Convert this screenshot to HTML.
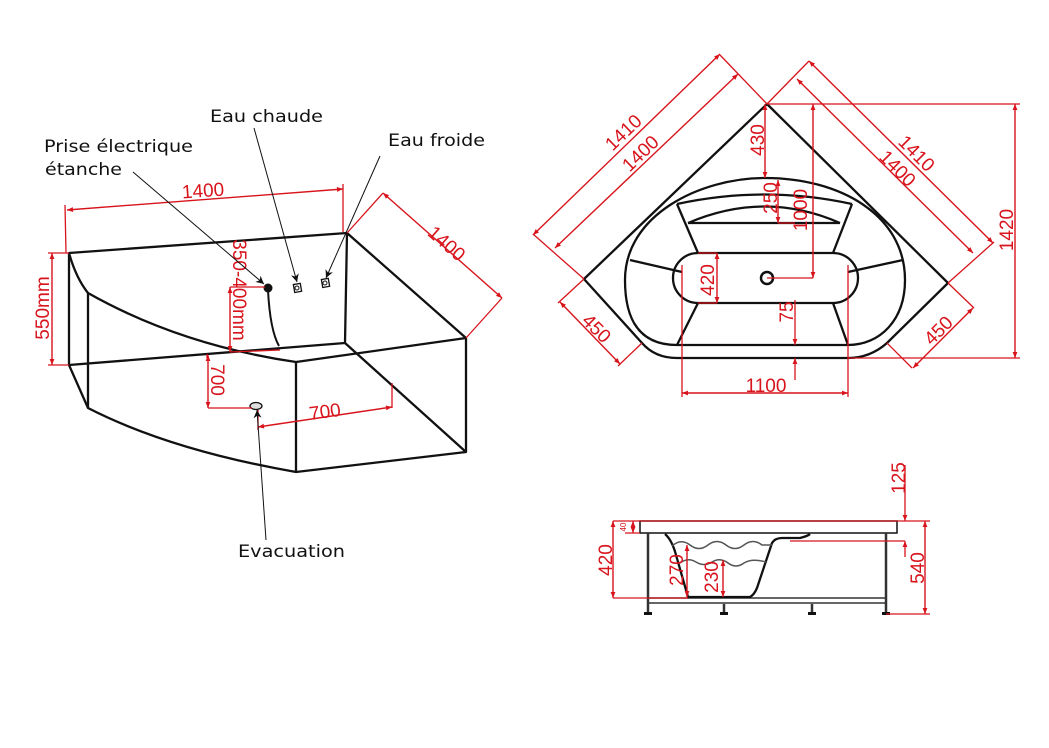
<!DOCTYPE html>
<html><head><meta charset="utf-8"><style>
html,body{margin:0;padding:0;background:#fff;}
svg{display:block;}
.k{stroke:#111;stroke-width:2.3;fill:none;stroke-linejoin:round}
.r{stroke:#d8141c;stroke-width:1.3;fill:none}
.ra{stroke:#d8141c;stroke-width:1.4;fill:none;marker-start:url(#a);marker-end:url(#a)}
.t{fill:#d8141c;font-family:"Liberation Sans",sans-serif;font-size:19px;text-anchor:middle}
.lb{fill:#111;font-family:"DejaVu Sans","Liberation Sans",sans-serif;font-size:17px}
</style></head><body>
<svg width="1049" height="748" viewBox="0 0 1049 748" xmlns="http://www.w3.org/2000/svg">
<defs>
<marker id="a" viewBox="0 0 10 10" refX="10" refY="5" markerWidth="9" markerHeight="6" orient="auto-start-reverse" markerUnits="userSpaceOnUse"><path d="M0,1 L10,5 L0,9 z" fill="#d8141c"/></marker>
<marker id="b" viewBox="0 0 10 10" refX="10" refY="5" markerWidth="10" markerHeight="8" orient="auto" markerUnits="userSpaceOnUse"><path d="M0,0 L10,5 L0,10 L3,5 z" fill="#111"/></marker>
</defs>

<!-- LEFT ISOMETRIC -->
<g class="k">
<path d="M69,253 L347,233 L466,338 L466,452 L296,472 Q170,450 88,408 L69,365 Z"/>
<path d="M69,253 Q76,278 88,293 Q180,345 296,362 L466,338"/>
<path d="M88,293 L88,408 M296,362 L296,472 M347,233 L345,343 L466,452 M69,365 L345,343"/>
</g>
<circle cx="268" cy="288" r="4.5" fill="#111"/>
<path d="M268,290 Q270,330 279,346" stroke="#111" stroke-width="2" fill="none"/>
<rect x="294" y="284" width="7" height="8" fill="none" stroke="#111" stroke-width="1.3" transform="rotate(-10 297 288)"/>
<circle cx="297" cy="288" r="2" fill="none" stroke="#111"/>
<rect x="322" y="279" width="7" height="8" fill="none" stroke="#111" stroke-width="1.3" transform="rotate(-10 325 283)"/>
<circle cx="325" cy="283" r="2" fill="none" stroke="#111"/>
<ellipse cx="256" cy="406" rx="6" ry="3.5" fill="#ddd" stroke="#111" stroke-width="1.3"/>
<path class="r" d="M66,253 L65,205 M343,232 L343,184 M347,233 L383,193 M466,338 L502,298 M48,253 L69,253 M48,365 L69,365 M230,287 L265,287 M230,352 L280,350 M207,354 L207,358 M208,408 L252,408 M392,383 L392,408 M258,410 L258,430"/>
<line class="ra" x1="67" y1="210" x2="343" y2="189"/>
<line class="ra" x1="383" y1="193" x2="502" y2="298"/>
<line class="ra" x1="52" y1="253" x2="52" y2="365"/>
<line class="ra" x1="230" y1="287" x2="230" y2="352"/>
<line class="ra" x1="208" y1="355" x2="208" y2="408"/>
<line class="ra" x1="258" y1="427" x2="392" y2="407"/>
<text class="t" x="203" y="197" transform="rotate(-4 203 190)">1400</text>
<text class="t" x="447" y="250" transform="rotate(41 447 243)">1400</text>
<text class="t" x="42" y="315" transform="rotate(-90 42 308)">550mm</text>
<text class="t" x="240" y="297" transform="rotate(90 240 290)">350-400mm</text>
<text class="t" x="218" y="387" transform="rotate(90 218 380)">700</text>
<text class="t" x="325" y="418" transform="rotate(-8 325 412)">700</text>
<text class="lb" x="44" y="152" textLength="149" lengthAdjust="spacingAndGlyphs">Prise électrique</text>
<text class="lb" x="45" y="175" textLength="77" lengthAdjust="spacingAndGlyphs">étanche</text>
<text class="lb" x="210" y="122" textLength="113" lengthAdjust="spacingAndGlyphs">Eau chaude</text>
<text class="lb" x="388" y="146" textLength="97" lengthAdjust="spacingAndGlyphs">Eau froide</text>
<text class="lb" x="238" y="557" textLength="107" lengthAdjust="spacingAndGlyphs">Evacuation</text>
<g stroke="#111" stroke-width="1" fill="none">
<line x1="133" y1="172" x2="264" y2="284" marker-end="url(#b)"/>
<line x1="254" y1="128" x2="297" y2="282" marker-end="url(#b)"/>
<line x1="380" y1="156" x2="326" y2="278" marker-end="url(#b)"/>
<line x1="266" y1="540" x2="257" y2="410" marker-end="url(#b)"/>
</g>

<!-- TOP VIEW -->
<g class="k">
<path d="M767,104 L948,283 L887,343 Q870,358 848,358 L677,358 Q655,358 642,343 L584,279 Z"/>
<path d="M677,345 C630,345 625,305 625,280 C625,215 700,178 765,178 C840,178 905,215 905,280 C905,320 880,345 848,345 Z"/>
<path d="M677,204 Q765,185 852,204 M688,223 Q765,190 840,223 M688,223 L840,223"/>
<path d="M677,204 L698,253 M852,204 L833,253"/>
<path d="M698,253 L833,253 A25,25 0 0 1 833,303 L698,303 A25,25 0 0 1 698,253 Z"/>
<path d="M630,260 L682,272 M677,345 L698,303 M903,260 L848,272 M848,345 L833,303"/>
</g>
<circle cx="767" cy="278" r="6" fill="none" stroke="#111" stroke-width="2.5"/>
<g class="r">
<path d="M767,104 L720,55 M767,104 L809,61 M584,279 L533,234 M948,283 L994,242 M584,279 L558,303 M642,343 L618,366 M948,283 L974,308 M887,343 L912,368"/>
<path d="M767,104 L1020,104 M848,358 L1020,358 M682,265 L682,397 M848,265 L848,397 M767,278 L813,278 M698,253 L717,253 M698,303 L717,303 M778,223 L795,223"/>
</g>
<line class="ra" x1="533" y1="235" x2="720" y2="54"/>
<line class="ra" x1="555" y1="248" x2="738" y2="74"/>
<line class="ra" x1="809" y1="61" x2="993" y2="243"/>
<line class="ra" x1="797" y1="79" x2="973" y2="253"/>
<line class="ra" x1="560" y1="302" x2="620" y2="364"/>
<line class="ra" x1="973" y1="308" x2="913" y2="368"/>
<line class="ra" x1="1015" y1="104" x2="1015" y2="358"/>
<line class="ra" x1="765" y1="104" x2="765" y2="178"/>
<line class="ra" x1="813" y1="104" x2="813" y2="278"/>
<line class="ra" x1="778" y1="180" x2="778" y2="223"/>
<line class="ra" x1="717" y1="253" x2="717" y2="303"/>
<line class="ra" x1="682" y1="393" x2="848" y2="393"/>
<line class="r" x1="795" y1="300" x2="795" y2="345" marker-end="url(#a)"/>
<line class="r" x1="795" y1="380" x2="795" y2="358" marker-end="url(#a)"/>
<text class="t" x="623" y="139" transform="rotate(-44 623 132)">1410</text>
<text class="t" x="640" y="160" transform="rotate(-44 640 153)">1400</text>
<text class="t" x="917" y="160" transform="rotate(45 917 153)">1410</text>
<text class="t" x="898" y="175" transform="rotate(45 898 168)">1400</text>
<text class="t" x="757" y="147" transform="rotate(-90 757 140)">430</text>
<text class="t" x="770" y="205" transform="rotate(-90 770 198)">250</text>
<text class="t" x="800" y="217" transform="rotate(-90 800 210)">1000</text>
<text class="t" x="707" y="287" transform="rotate(-90 707 280)">420</text>
<text class="t" x="786" y="319" transform="rotate(-90 786 312)">75</text>
<text class="t" x="766" y="392">1100</text>
<text class="t" x="1006" y="237" transform="rotate(-90 1006 230)">1420</text>
<text class="t" x="597" y="335" transform="rotate(45 597 328)">450</text>
<text class="t" x="938" y="337" transform="rotate(-45 938 330)">450</text>

<!-- SIDE VIEW -->
<rect x="640" y="521" width="257" height="12" fill="none" stroke="#111" stroke-width="1.5"/>
<g stroke="#333" stroke-width="2.5" fill="none">
<path d="M648,533 L648,612 M886,533 L886,612 M724,604 L724,612 M812,604 L812,612"/>
</g>
<rect x="648" y="598" width="238" height="5" fill="none" stroke="#333" stroke-width="1.5"/>
<g fill="#111">
<rect x="644" y="612" width="8" height="3"/><rect x="720" y="612" width="8" height="3"/><rect x="808" y="612" width="8" height="3"/><rect x="882" y="612" width="8" height="3"/>
</g>
<path class="k" d="M665,534 Q672,540 676,555 L688,597 L750,597 Q754,595 757,588 L772,543 Q775,538 782,538 L800,538 Q808,536 810,534" stroke-width="1.8"/>
<path d="M672,546 Q681,538 690,545 Q699,552 708,545 Q717,538 726,545 Q735,552 744,545 Q753,538 762,545 L772,545" stroke="#555" stroke-width="1.5" fill="none"/>
<path d="M680,563 Q688,557 696,562 Q704,567 712,562 Q720,557 728,563 Q736,569 744,563 Q752,558 766,562" stroke="#555" stroke-width="1.5" fill="none"/>
<g class="r">
<path d="M613,521 L930,521 M613,598 L688,598 M625,533 L640,533 M790,541 L905,541 M886,614 L930,614"/>
</g>
<line class="ra" x1="613" y1="521" x2="613" y2="598"/>
<line class="ra" x1="633" y1="521" x2="633" y2="533"/>
<line class="ra" x1="687" y1="545" x2="687" y2="597"/>
<line class="ra" x1="723" y1="560" x2="723" y2="597"/>
<line class="ra" x1="925" y1="521" x2="925" y2="614"/>
<line class="r" x1="905" y1="465" x2="905" y2="521" marker-end="url(#a)"/>
<line class="r" x1="905" y1="557" x2="905" y2="541" marker-end="url(#a)"/>
<text class="t" x="605" y="567" transform="rotate(-90 605 560)">420</text>
<text class="t" x="623" y="530" style="font-size:8px" transform="rotate(-90 623 527)">40</text>
<text class="t" x="676" y="577" transform="rotate(-90 676 570)">270</text>
<text class="t" x="711" y="584" transform="rotate(-90 711 577)">230</text>
<text class="t" x="898" y="485" transform="rotate(-90 898 478)">125</text>
<text class="t" x="917" y="575" transform="rotate(-90 917 568)">540</text>
</svg>
</body></html>
